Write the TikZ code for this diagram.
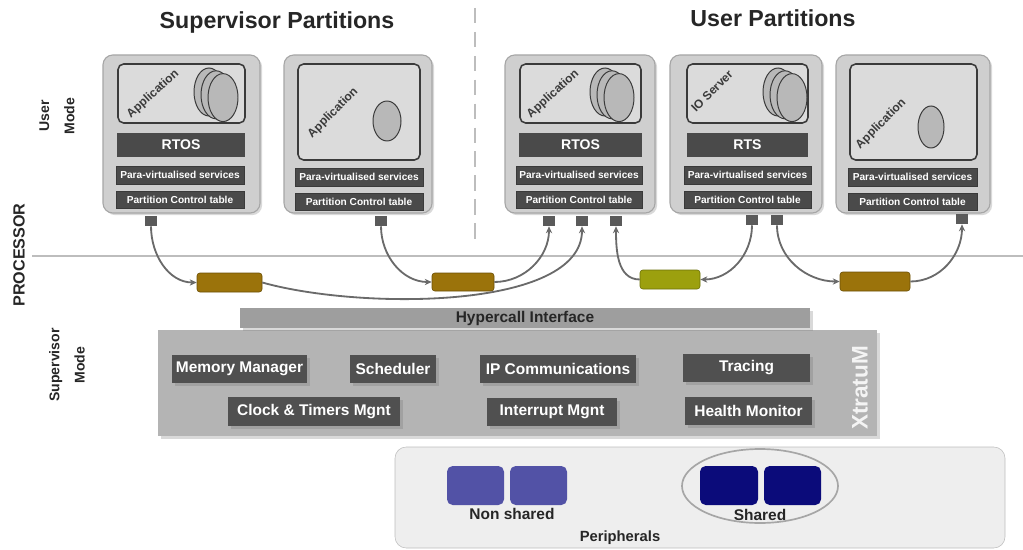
\documentclass[tikz,border=0pt]{standalone}
\usepackage{fontspec}
\setmainfont{Liberation Sans}
\usepackage{tikz}
\usetikzlibrary{fit,shadows,arrows.meta}
\definecolor{partgray}{HTML}{CFCFCF}
\definecolor{edgegray}{HTML}{A6A6A6}
\definecolor{appgray}{HTML}{DBDBDB}
\definecolor{darkline}{HTML}{3A3A3A}
\definecolor{bargray}{HTML}{4A4A4A}
\definecolor{diskgray}{HTML}{B8B8B8}
\definecolor{portgray}{HTML}{5A5A5A}
\definecolor{chanbrown}{HTML}{9B730B}
\definecolor{chanolive}{HTML}{9CA00E}
\definecolor{linkgray}{HTML}{6A6A6A}
\definecolor{rulegray}{HTML}{BDBDBD}
\definecolor{hypgray}{HTML}{9E9E9E}
\definecolor{xtmgray}{HTML}{B4B4B4}
\definecolor{modgray}{HTML}{505050}
\definecolor{pergray}{HTML}{EEEEEE}
\definecolor{nonshblue}{HTML}{5252A6}
\definecolor{shblue}{HTML}{0B0B7A}
\definecolor{textgray}{HTML}{262626}

\begin{document}
\begin{tikzpicture}[x=0.025cm,y=-0.025cm,
	partbox/.style={draw=edgegray, fill=partgray, rounded corners=7pt, line width=0.8pt, inner sep=0pt,
		drop shadow={shadow xshift=1.5pt, shadow yshift=-1.5pt, opacity=0.3}},
	appbox/.style={draw=darkline, fill=appgray, rounded corners=4pt, line width=1.1pt, inner sep=0pt},
	osbar/.style={fill=bargray, inner sep=0pt},
	svcbar/.style={fill=bargray, draw=darkline, inner sep=0pt},
	ostext/.style={text=white, font=\fontsize{10}{12}\selectfont\bfseries, inner sep=0pt},
	svctext/.style={text=white, font=\fontsize{7.2}{8}\selectfont\bfseries, inner sep=0pt},
	apptext/.style={font=\fontsize{8.5}{10}\selectfont\bfseries, text=darkline, rotate=42},
	disk/.style={draw=darkline, fill=diskgray, line width=0.7pt},
	port/.style={fill=portgray, minimum width=0.32cm, minimum height=0.25cm, inner sep=0pt},
	chan/.style={fill=chanbrown, draw=chanbrown!70!black, rounded corners=2pt, inner sep=0pt},
	link/.style={draw=linkgray, line width=1.3pt, -{Stealth[length=5pt,width=4.5pt]}},
	module/.style={fill=modgray, inner sep=0pt,
		drop shadow={shadow xshift=2pt, shadow yshift=-2pt, opacity=0.35}},
	modtext/.style={text=white, font=\fontsize{11}{13}\selectfont\bfseries, inner sep=0pt},
	device/.style={rounded corners=4pt, inner sep=0pt},
	ptext/.style={font=\fontsize{11}{13}\selectfont\bfseries, text=textgray},
	modetext/.style={font=\fontsize{10}{18}\selectfont\bfseries, text=textgray, rotate=90, align=center},
	]
	\useasboundingbox (0,0) rectangle (1023,550);

	\node (suptitle) at (277,23) [font=\fontsize{16.5}{18}\selectfont\bfseries, text=textgray] {Supervisor Partitions};
	\node (usrtitle) at (773,18) [font=\fontsize{16.5}{18}\selectfont\bfseries, text=textgray] {User Partitions};
	\draw [rulegray, line width=1.5pt, dash pattern=on 11pt off 6pt] (475,8) -- (475,245);
	\coordinate (rulestart) at (32,256);
	\coordinate (ruleend) at (1023,256);
	\draw [rulegray, line width=2pt] (rulestart) -- (ruleend);
	\node (proc) at (19,255) [font=\fontsize{11.5}{13}\selectfont\bfseries, text=textgray, rotate=90] {PROCESSOR};
	\node (umode) at (57,116) [modetext] {User\\Mode};
	\node (smode) at (67,365) [modetext] {Supervisor\\Mode};

	\node (sp1) [partbox, fit={(103,55) (260,213)}] {};
	\node (app1) [appbox, fit={(118,64) (245,123)}] {};
	\foreach \d in {0,7,14}
		\draw [disk] (209+\d,92+\d*0.4) ellipse (15 and 24);
	\node (apt1) at (153,94) [apptext] {Application};
	\node (os1) [osbar, fit={(117,133) (245,157)}, label={[ostext]center:RTOS}] {};
	\node (pv1) [svcbar, fit={(116,166) (244,184)}, label={[svctext]center:Para-virtualised services}] {};
	\node (pct1) [svcbar, fit={(116,191) (244,208)}, label={[svctext]center:Partition Control table}] {};

	\node (sp2) [partbox, fit={(284,55) (432,213)}] {};
	\node (app2) [appbox, fit={(298,64) (420,160)}] {};
	\draw [disk] (387,121) ellipse (14 and 20);
	\node (apt2) at (333,113) [apptext, rotate=3] {Application};
	\node (pv2) [svcbar, fit={(295,168) (423,186)}, label={[svctext]center:Para-virtualised services}] {};
	\node (pct2) [svcbar, fit={(295,193) (423,210)}, label={[svctext]center:Partition Control table}] {};

	\node (up1) [partbox, fit={(505,55) (655,213)}] {};
	\node (app3) [appbox, fit={(520,64) (641,123)}] {};
	\foreach \d in {0,7,14}
		\draw [disk] (605+\d,92+\d*0.4) ellipse (15 and 24);
	\node (apt3) at (553,94) [apptext] {Application};
	\node (os3) [osbar, fit={(519,133) (642,157)}, label={[ostext]center:RTOS}] {};
	\node (pv3) [svcbar, fit={(516,166) (642,184)}, label={[svctext]center:Para-virtualised services}] {};
	\node (pct3) [svcbar, fit={(516,191) (642,208)}, label={[svctext]center:Partition Control table}] {};

	\node (up2) [partbox, fit={(670,55) (822,213)}] {};
	\node (app4) [appbox, fit={(687,64) (808,123)}] {};
	\foreach \d in {0,7,14}
		\draw [disk] (778+\d,92+\d*0.4) ellipse (15 and 24);
	\node (apt4) at (712,91) [apptext, rotate=3] {IO Server};
	\node (os4) [osbar, fit={(687,133) (808,157)}, label={[ostext]center:RTS}] {};
	\node (pv4) [svcbar, fit={(684,166) (811,184)}, label={[svctext]center:Para-virtualised services}] {};
	\node (pct4) [svcbar, fit={(684,191) (811,208)}, label={[svctext]center:Partition Control table}] {};

	\node (up3) [partbox, fit={(836,55) (990,213)}] {};
	\node (app5) [appbox, fit={(850,64) (977,160)}] {};
	\draw [disk] (931,127) ellipse (13 and 21);
	\node (apt5) at (881,124) [apptext, rotate=3] {Application};
	\node (pv5) [svcbar, fit={(848,168) (977,186)}, label={[svctext]center:Para-virtualised services}] {};
	\node (pct5) [svcbar, fit={(848,193) (977,210)}, label={[svctext]center:Partition Control table}] {};

	\node (p1a) at (151,221) [port] {};
	\node (p2a) at (381,221) [port] {};
	\node (p3a) at (549,221) [port] {};
	\node (p3b) at (582,221) [port] {};
	\node (p3c) at (616,221) [port] {};
	\node (p4a) at (752,220) [port] {};
	\node (p4b) at (777,220) [port] {};
	\node (p5a) at (962,219) [port] {};

	\node (ch1) [chan, fit={(197,273) (262,292)}] {};
	\node (ch2) [chan, fit={(432,273) (494,291)}] {};
	\node (ch3) [chan, fill=chanolive, draw=chanolive!70!black, fit={(640,270) (700,289)}] {};
	\node (ch4) [chan, fit={(840,272) (910,291)}] {};

	\draw [link] (p1a.south) to[out=-90,in=180] (ch1.west);
	\draw [link] (ch1.east) .. controls (360,310) and (582,310) .. (p3b.south);
	\draw [link] (p2a.south) to[out=-90,in=180] (ch2.west);
	\draw [link] (ch2.east) to[out=0,in=-90] (p3a.south);
	\draw [link] (p4a.south) to[out=-90,in=0] (ch3.east);
	\draw [link] (ch3.west) to[out=180,in=-90] (p3c.south);
	\draw [link] (p4b.south) to[out=-90,in=180] (ch4.west);
	\draw [link] (ch4.east) to[out=0,in=-90] (p5a.south);

	\node (xtm) [fill=xtmgray, inner sep=0pt, fit={(158,330) (877,436)},
		drop shadow={shadow xshift=2pt, shadow yshift=-2pt, opacity=0.3}] {};
	\node (hyp) [fill=hypgray, inner sep=0pt, fit={(240,308) (810,328)},
		label={[font=\fontsize{11}{13}\selectfont\bfseries, text=textgray, inner sep=0pt]center:Hypercall Interface},
		drop shadow={shadow xshift=2pt, shadow yshift=-2pt, opacity=0.3}] {};
	\node (xtmname) at (860,388) [font=\fontsize{16}{18}\selectfont\bfseries, text=white!85!xtmgray, rotate=90] {XtratuM};

	\node (mem) [module, fit={(172,355) (307,383)}, label={[modtext]center:Memory Manager}] {};
	\node (sched) [module, fit={(350,355) (436,383)}, label={[modtext]center:Scheduler}] {};
	\node (ipc) [module, fit={(480,355) (636,383)}, label={[modtext]center:IP Communications}] {};
	\node (trace) [module, fit={(683,354) (810,382)}, label={[modtext]center:Tracing}] {};
	\node (clock) [module, fit={(228,397) (400,426)}, label={[modtext]center:Clock \& Timers Mgnt}] {};
	\node (irq) [module, fit={(487,398) (617,426)}, label={[modtext]center:Interrupt Mgnt}] {};
	\node (health) [module, fit={(685,397) (812,425)}, label={[modtext]center:Health Monitor}] {};

	\node (perbox) [draw=rulegray, fill=pergray, rounded corners=8pt, inner sep=0pt, fit={(395,447) (1005,548)}] {};
	\node (dev1) [device, fill=nonshblue, fit={(447,466) (504,505)}] {};
	\node (dev2) [device, fill=nonshblue, fit={(510,466) (567,505)}] {};
	\draw [edgegray, line width=1.2pt] (760,486) ellipse (78 and 37);
	\node (dev3) [device, fill=shblue, fit={(700,466) (758,505)}] {};
	\node (dev4) [device, fill=shblue, fit={(764,466) (821,505)}] {};
	\node (nonsh) at (512,514) [ptext] {Non shared};
	\node (shrd) at (760,515) [ptext] {Shared};
	\node (periph) at (620,538) [ptext, font=\fontsize{10.5}{12}\selectfont\bfseries] {Peripherals};
\end{tikzpicture}
\end{document}
